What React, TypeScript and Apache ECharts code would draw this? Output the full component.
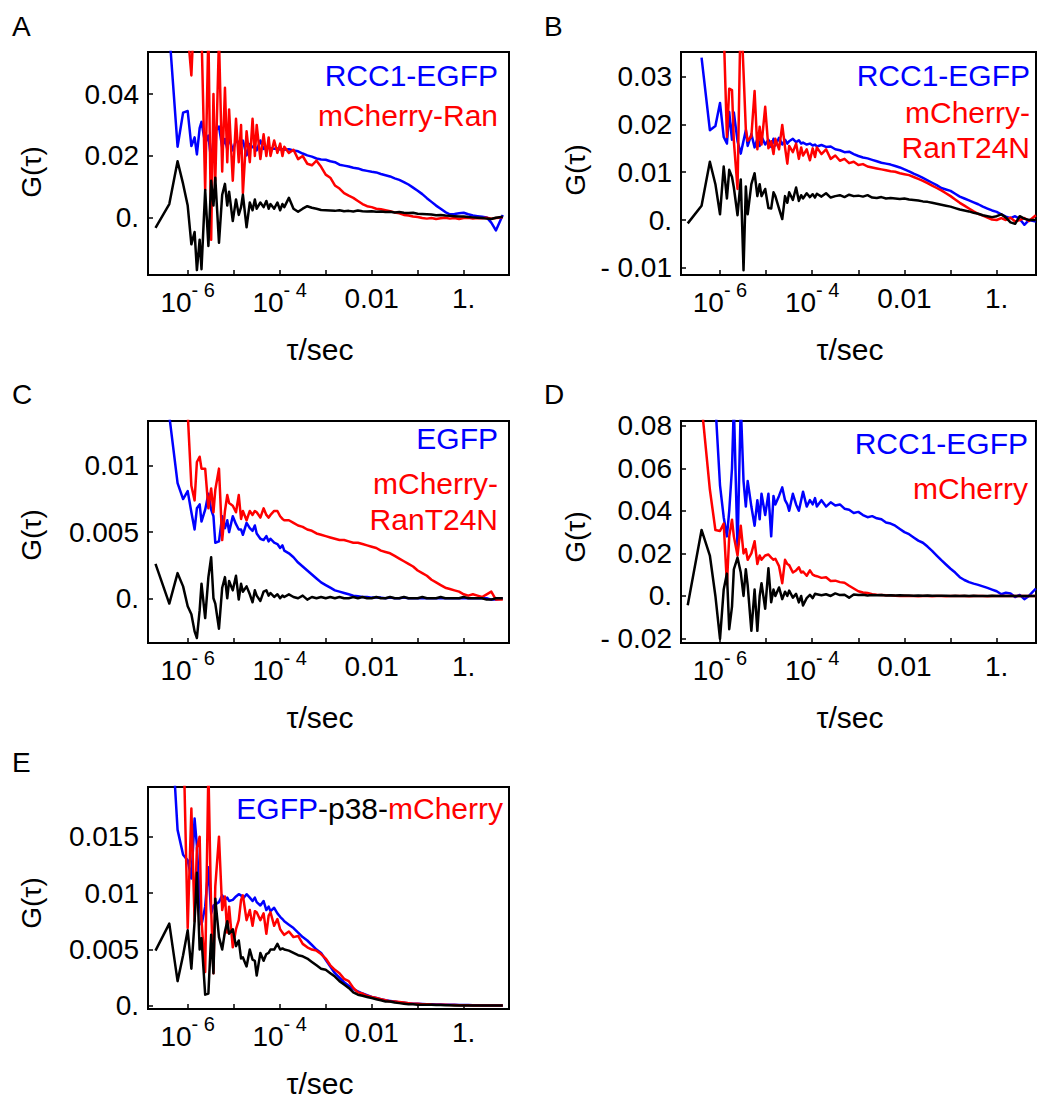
import React, { useEffect, useRef } from "react";
import * as echarts from "echarts";

const BLUE = "#0000ff";
const RED = "#ff0000";
const BLACK = "#000000";
const FONT = "'Liberation Sans', Arial, Helvetica, sans-serif";

// log10 of the lag time tau (s), shared by every curve
const lagLog10 = [
  -6.7, -6.4, -6.22, -6.1, -6.0, -5.92, -5.85, -5.8, -5.74, -5.7,
  -5.62, -5.55, -5.49, -5.44, -5.4, -5.32, -5.25, -5.19, -5.14, -5.1,
  -5.02, -4.95, -4.89, -4.84, -4.8, -4.72, -4.65, -4.59, -4.54, -4.5,
  -4.42, -4.35, -4.29, -4.24, -4.2, -4.12, -4.05, -3.99, -3.94, -3.9,
  -3.8, -3.7, -3.6, -3.5, -3.4, -3.3, -3.2, -3.1, -3.0, -2.9,
  -2.8, -2.7, -2.6, -2.5, -2.4, -2.3, -2.2, -2.1, -2.0, -1.9,
  -1.8, -1.7, -1.6, -1.5, -1.4, -1.3, -1.2, -1.1, -1.0, -0.9,
  -0.8, -0.7, -0.6, -0.5, -0.4, -0.3, -0.2, -0.1, 0.0, 0.1,
  0.2, 0.3, 0.4, 0.5, 0.6, 0.7, 0.85,
];

// x tick marks / labels (log10 tau)
const xTickValues = [-6, -5, -4, -3, -2, -1, 0];
const xLabelValues = [-6, -4, -2, 0];
const xLabelTexts = ["10^- 6", "10^- 4", "0.01", "1."];

// ---------- Panel A ----------
const aYTicks = [0, 0.02, 0.04];
const aBlue = [
  null, 0.06, 0.023, 0.034, 0.0345, 0.0232, 0.026, 0.0205, 0.029, 0.031,
  0.024, 0.0266, 0.0185, 0.025, 0.028, 0.0295, 0.0228, 0.0255, 0.0223, 0.026,
  0.0218, 0.025, 0.0245, 0.0239, 0.025, 0.0202, 0.0239, 0.0228, 0.0232, 0.0218,
  0.025, 0.0223, 0.0228, 0.0226, 0.0225, 0.0223, 0.0224, 0.0221, 0.0222, 0.022,
  0.0222, 0.0218, 0.0215, 0.0208, 0.0202, 0.0198, 0.0192, 0.0189, 0.0188, 0.0183,
  0.018, 0.0172, 0.0169, 0.0166, 0.0162, 0.016, 0.0155, 0.0152, 0.0149, 0.0147,
  0.0142, 0.0138, 0.0134, 0.0128, 0.0123, 0.0116, 0.0108, 0.0098, 0.0088, 0.0077,
  0.0064, 0.0052, 0.004, 0.003, 0.0019, 0.0012, 0.0013, 0.0015, 0.0017, 0.0012,
  0.0008, 0.0006, 0.0004, 0.0002, -0.0015, -0.004, 0.001,
];
const aRed = [
  null, null, null, 0.065, 0.06, 0.046, 0.07, 0.09, 0.065, 0.06,
  0.009, 0.06, -0.007, 0.04, 0.012, 0.058, 0.015, 0.042, 0.018, 0.035,
  0.012, 0.032, 0.018, 0.03, 0.008, 0.028, 0.018, 0.032, 0.02, 0.03,
  0.019, 0.027, 0.02, 0.026, 0.02, 0.025, 0.021, 0.024, 0.02, 0.023,
  0.021, 0.022, 0.019, 0.02, 0.0175, 0.017, 0.0185, 0.0165, 0.014, 0.013,
  0.0105, 0.0095, 0.008, 0.0072, 0.0065, 0.0055, 0.0045, 0.0038, 0.0035, 0.003,
  0.0028, 0.0025, 0.0022, 0.0018, 0.0015, 0.001, 0.0008, 0.0005, 0.0003, 0.0,
  -0.0002, 0.0, -0.0003, -0.0001, 0.0001, -0.0002, 0.0, -0.0003, 0.0, 0.0001,
  -0.0002, 0.0, -0.0001, 0.0001, -0.0002, 0.0, 0.0002,
];
const aBlack = [
  -0.0032, 0.0045, 0.0183, 0.011, 0.004, -0.0085, -0.0045, -0.0168, -0.007, -0.0165,
  0.009, -0.009, 0.012, 0.004, 0.013, -0.008, 0.0075, 0.011, 0.004, 0.0085,
  -0.001, 0.006, 0.001, 0.0035, 0.0075, -0.003, 0.005, 0.0025, 0.006, 0.003,
  0.005, 0.0035, 0.0055, 0.003, 0.0045, 0.003, 0.005, 0.0025, 0.0045, 0.0035,
  0.0065, 0.003, 0.002, 0.003, 0.0038, 0.0033, 0.003, 0.0026, 0.0025, 0.0024,
  0.0023, 0.0025, 0.0022, 0.0023, 0.0021, 0.0024, 0.0022, 0.0021, 0.0022, 0.002,
  0.0021, 0.0019, 0.002, 0.0018, 0.0019, 0.0017, 0.0016, 0.0017, 0.0014, 0.0013,
  0.0012, 0.0011, 0.0009, 0.001, 0.0008, 0.0007, 0.0006, 0.0005, 0.0005, 0.0003,
  0.0002, 0.0001, 0.0, -0.0002, -0.0003, 0.0001, 0.0004,
];

// ---------- Panel B ----------
const bYTicks = [-0.01, 0, 0.01, 0.02, 0.03];
const bBlue = [
  null, 0.034, 0.0188, 0.0197, 0.0245, 0.0174, 0.016, 0.0226, 0.0168, 0.0225,
  0.0165, 0.0139, 0.0166, 0.0188, 0.0155, 0.018, 0.0152, 0.017, 0.0155, 0.0175,
  0.0158, 0.0168, 0.0153, 0.017, 0.0156, 0.0172, 0.0158, 0.0168, 0.016, 0.0165,
  0.017, 0.0163, 0.0167, 0.016, 0.0162, 0.0158, 0.016, 0.0156, 0.0158, 0.0154,
  0.0157, 0.0153, 0.0154, 0.0148, 0.0146, 0.0142, 0.0143, 0.0138, 0.0134, 0.0131,
  0.0129, 0.0126, 0.0123, 0.012, 0.0118, 0.0116, 0.0113, 0.011, 0.0106, 0.0102,
  0.0097, 0.0093, 0.0088, 0.0083, 0.0078, 0.0073, 0.0067, 0.0064, 0.0061, 0.0055,
  0.0049, 0.0045, 0.0041, 0.0037, 0.0033, 0.0028, 0.0024, 0.002, 0.0017, 0.0012,
  0.0007, 0.0004, 0.0008, 0.0002, -0.001, 0.0, -0.0003,
];
const bRed = [
  null, null, null, null, null, 0.04, 0.0174, 0.0275, 0.0272, 0.0165,
  0.0065, 0.045, 0.031, 0.019, 0.0166, 0.0175, 0.027, 0.0148, 0.0195, 0.0158,
  0.0237, 0.015, 0.0165, 0.0138, 0.017, 0.0148, 0.0199, 0.0152, 0.0118, 0.0155,
  0.0142, 0.016, 0.0128, 0.0152, 0.0135, 0.0148, 0.0125, 0.015, 0.0132, 0.0152,
  0.0138, 0.0148, 0.0128, 0.0135, 0.0124, 0.0128, 0.0119, 0.0122, 0.0115, 0.0117,
  0.0112, 0.011, 0.0108, 0.0106, 0.0104, 0.0102, 0.0101, 0.0098, 0.0096, 0.0094,
  0.009, 0.0086, 0.0082, 0.0077, 0.0072, 0.0067, 0.0062, 0.0056, 0.005, 0.0043,
  0.0036, 0.003, 0.0024, 0.0018, 0.0013, 0.0009, 0.0005, 0.0001, 0.0, 0.0004,
  0.0, 0.0005, -0.0003, 0.0, 0.0004, -0.0002, 0.001,
];
const bBlack = [
  -0.0007, 0.003, 0.0122, 0.0075, 0.0012, 0.0112, 0.0045, 0.0105, 0.009, 0.0068,
  0.001, 0.0085, -0.0105, 0.007, 0.0012, 0.0075, 0.0098, 0.005, 0.0075, 0.005,
  0.0065, 0.0025, 0.0024, 0.0058, 0.005, 0.0024, 0.0002, 0.005, 0.0036, 0.0058,
  0.0042, 0.0068, 0.004, 0.0052, 0.0045, 0.0056, 0.0048, 0.0054, 0.0047, 0.0055,
  0.0049, 0.0056, 0.0047, 0.005, 0.0052, 0.0048, 0.0053, 0.005, 0.0051, 0.0049,
  0.0052, 0.0047, 0.0046, 0.0048, 0.0045, 0.0046, 0.0045, 0.0044, 0.0045, 0.0043,
  0.0042, 0.0041, 0.0039, 0.0038, 0.0036, 0.0034, 0.0032, 0.003, 0.0028, 0.0025,
  0.0022, 0.002, 0.0018, 0.0015, 0.0013, 0.001, 0.0008, 0.0006, 0.0008, 0.0012,
  0.0005, -0.0005, -0.0008, 0.0008, 0.0003, 0.0, 0.0,
];

// ---------- Panel C ----------
const cYTicks = [0, 0.005, 0.01];
const cBlue = [
  null, 0.0138, 0.0087, 0.0075, 0.0081, 0.0065, 0.0052, 0.0068, 0.0071, 0.0058,
  0.0067, 0.0079, 0.0067, 0.0062, 0.0042, 0.0043, 0.0062, 0.0053, 0.0059, 0.005,
  0.0062, 0.0056, 0.0052, 0.0052, 0.0048, 0.0057, 0.0053, 0.0051, 0.0055, 0.0049,
  0.0045, 0.0044, 0.0047, 0.0043, 0.0045, 0.0042, 0.0041, 0.0038, 0.004, 0.0036,
  0.0034, 0.0031, 0.0027, 0.0024, 0.0021, 0.0018, 0.0015, 0.0012, 0.001, 0.0008,
  0.0006, 0.0005, 0.0004, 0.0003, 0.0002, 0.00015, 0.0001, 0.0001, 0.00005, 0.00005,
  0.00005, 0.0, 0.00005, 0.0, 0.0, 0.00005, 0.0, 0.0, 0.0, 0.0,
  0.0, 0.0, 0.0, 0.0, 0.0, 0.0, 0.0, 0.0, 0.0, 0.0,
  0.0, 0.0, 0.0, 0.0, -0.0001, -0.0001, 0.0,
];
const cRed = [
  null, null, null, null, 0.014, 0.0085, 0.0074, 0.0103, 0.0107, 0.0098,
  0.0098, 0.0068, 0.0083, 0.0065, 0.0082, 0.0098, 0.0044, 0.0066, 0.0078, 0.0072,
  0.007, 0.0065, 0.0078, 0.006, 0.0066, 0.0059, 0.0066, 0.0063, 0.0066, 0.0065,
  0.0061, 0.0068, 0.0063, 0.0061, 0.0063, 0.0066, 0.0066, 0.0062, 0.006, 0.0059,
  0.0059, 0.0057, 0.0055, 0.0054, 0.0052, 0.0051, 0.0049, 0.0048, 0.0047, 0.0046,
  0.0045, 0.0044, 0.0044, 0.0043, 0.0042, 0.0042, 0.0041, 0.004, 0.0039, 0.0038,
  0.0036, 0.0035, 0.0034, 0.0032, 0.003, 0.0028, 0.0026, 0.0024, 0.0021, 0.0019,
  0.0017, 0.0014, 0.0012, 0.001, 0.0008, 0.0007, 0.0006, 0.0005, 0.0003, 0.0002,
  0.0003, 0.0002, 0.0001, 0.0003, 0.0005, -0.0001, -0.0001,
];
const cBlack = [
  0.0026, -0.0004, 0.0019, 0.0009, -0.0006, -0.0012, -0.0025, -0.003, -0.0009, 0.0011,
  -0.0015, 0.0016, 0.0031, 0.0, -0.0004, -0.0023, 0.0008, 0.0016, 0.0, 0.0013,
  0.0006, 0.0017, -0.0001, 0.0011, 0.0005, 0.0009, 0.0003, -0.0003, 0.0006, 0.0002,
  -0.0002, 0.0005, 0.0006, 0.0002, 0.0004, 0.0001, 0.0003, 0.0, 0.0002, 0.0001,
  0.0003, 0.0001, 0.0, 0.0002, -0.0001, 0.0001, 0.0, 0.0001, 0.0, 0.0001,
  0.0, 0.0001, 0.0, 0.0, 0.0001, 0.0, 0.0001, 0.0, 0.0, 0.0001,
  0.0, 0.0, 0.0001, 0.0, 0.0, 0.0001, 0.0, 0.0, 0.0, 0.0001,
  0.0, 0.0, 0.0, 0.0001, 0.0, 0.0, 0.0, 0.0, 0.0001, 0.0,
  0.0, 0.0, 0.0, -0.0001, -0.0001, 0.0, 0.0,
];

// ---------- Panel D ----------
const dYTicks = [-0.02, 0, 0.02, 0.04, 0.06, 0.08];
const dBlue = [
  null, null, null, 0.09, 0.052, 0.037, 0.028, 0.04, 0.06, 0.09,
  0.022, 0.09, 0.054, 0.042, 0.054, 0.042, 0.033, 0.045, 0.036, 0.048,
  0.038, 0.048, 0.028, 0.047, 0.043, 0.047, 0.051, 0.045, 0.043, 0.04,
  0.048, 0.043, 0.04, 0.045, 0.049, 0.042, 0.045, 0.043, 0.046, 0.042,
  0.045, 0.042, 0.044, 0.0425, 0.043, 0.041, 0.0405, 0.039, 0.0395, 0.038,
  0.037, 0.0375, 0.0365, 0.036, 0.0345, 0.034, 0.033, 0.0315, 0.03, 0.029,
  0.0275, 0.026, 0.025, 0.0232, 0.0212, 0.019, 0.0168, 0.0148, 0.0128, 0.011,
  0.0088, 0.0075, 0.0065, 0.0058, 0.0052, 0.0045, 0.0038, 0.003, 0.0022, 0.0008,
  0.0015, 0.0012, -0.0005, 0.0005, -0.0015, 0.0, 0.0035,
];
const dRed = [
  null, 0.09, 0.05, 0.031, 0.0305, 0.034, 0.0055, 0.028, 0.0358, 0.028,
  0.019, 0.033, 0.02, 0.022, 0.017, 0.02, 0.0257, 0.015, 0.019, 0.017,
  0.019, 0.0195, 0.018, 0.017, 0.0175, 0.014, 0.006, 0.017, 0.015, 0.0145,
  0.011, 0.012, 0.0135, 0.011, 0.0115, 0.0095, 0.012, 0.01, 0.0095, 0.0093,
  0.0085, 0.0088, 0.007, 0.0072, 0.0065, 0.0062, 0.0048, 0.0035, 0.0022, 0.0016,
  0.0014, 0.0008, 0.0006, 0.0005, 0.0003, 0.0003, 0.0001, 0.0, 0.0001, 0.0,
  0.0, -0.0001, 0.0, 0.0, -0.0001, 0.0, 0.0, -0.0001, 0.0, 0.0,
  0.0, 0.0, -0.0001, 0.0, 0.0, 0.0, -0.0001, 0.0, 0.0, 0.0,
  0.0, 0.0, 0.0, 0.0, 0.0, 0.0, 0.0,
];
const dBlack = [
  -0.0044, 0.031, 0.019, 0.0, -0.0202, 0.003, 0.0105, -0.0156, -0.005, 0.0125,
  0.018, 0.011, 0.0, 0.0125, 0.005, -0.0164, 0.003, -0.0164, 0.0, 0.006,
  -0.006, 0.013, -0.003, 0.003, 0.0, 0.004, -0.0015, 0.002, 0.0, 0.0025,
  -0.0008, 0.001, -0.003, 0.0, -0.0045, -0.001, 0.0005, -0.001, 0.001, 0.0008,
  0.0003, 0.0008, 0.0, 0.0012, 0.0004, 0.0006, -0.0008, 0.0007, 0.0004, 0.0006,
  0.0002, 0.0004, 0.0003, 0.0004, 0.0002, 0.0003, 0.0002, 0.0003, 0.0002, 0.0002,
  0.0001, 0.0002, 0.0001, 0.0002, 0.0001, 0.0001, 0.0001, 0.0001, 0.0, 0.0001,
  0.0, 0.0001, 0.0, 0.0001, 0.0, 0.0, 0.0, 0.0001, 0.0, 0.0,
  0.0, 0.0, 0.0, 0.0, 0.0, 0.0, 0.0,
];

// ---------- Panel E ----------
const eYTicks = [0, 0.005, 0.01, 0.015];
const eBlue = [
  null, 0.028, 0.0156, 0.0134, 0.0129, 0.0113, 0.0166, 0.0142, 0.0095, 0.0072,
  0.0088, 0.0123, 0.0082, 0.0089, 0.009, 0.0092, 0.0098, 0.0094, 0.0096, 0.0093,
  0.0094, 0.0097, 0.0099, 0.0098, 0.0095, 0.0099, 0.0096, 0.0093, 0.0096, 0.0092,
  0.0089, 0.0093, 0.0085, 0.0088, 0.0084, 0.0087, 0.0082, 0.0079, 0.0077, 0.0075,
  0.0072, 0.0069, 0.0065, 0.0061, 0.0058, 0.0054, 0.005, 0.0047, 0.0041, 0.0035,
  0.0029, 0.0025, 0.0021, 0.0018, 0.0015, 0.0013, 0.0011, 0.00095, 0.0008, 0.0007,
  0.0006, 0.0005, 0.00045, 0.0004, 0.0003, 0.00028, 0.00025, 0.0002, 0.0002, 0.00018,
  0.00015, 0.00015, 0.00012, 0.00012, 0.0001, 0.0001, 0.0001, 0.00008, 0.00008, 0.00008,
  0.00006, 0.00006, 0.00005, 0.00005, 0.00005, 0.00005, 0.00005,
];
const eRed = [
  null, null, null, 0.025, 0.0069, 0.0175, 0.0075, 0.014, 0.015, 0.0076,
  0.003, 0.021, 0.0085, 0.0029, 0.0106, 0.015, 0.0085, 0.0097, 0.0065, 0.0088,
  0.0052, 0.0068, 0.0076, 0.0094, 0.0098, 0.0076, 0.0085, 0.0071, 0.0084, 0.0083,
  0.0076, 0.0082, 0.0064, 0.008, 0.0083, 0.0071, 0.0077, 0.0068, 0.0065, 0.0063,
  0.0066, 0.0061, 0.0062, 0.0055, 0.0052, 0.005, 0.0049, 0.0046, 0.0042, 0.0036,
  0.0032, 0.0029, 0.0024, 0.0022, 0.0016, 0.0012, 0.0011, 0.0009, 0.0008, 0.0007,
  0.0006, 0.0005, 0.0004, 0.0004, 0.00035, 0.0003, 0.00025, 0.0002, 0.0002, 0.00015,
  0.00015, 0.00012, 0.0001, 0.0001, 0.0001, 0.00008, 0.00008, 0.00006, 0.00006, 0.00006,
  0.00005, 0.00005, 0.00004, 0.00004, 0.00004, 0.00004, 0.00004,
];
const eBlack = [
  0.0049, 0.0073, 0.0022, 0.0045, 0.0067, 0.0033, 0.0075, 0.0118, 0.005, 0.006,
  0.001, 0.0011, 0.0063, 0.0029, 0.0095, 0.0061, 0.005, 0.0066, 0.0075, 0.0064,
  0.0068, 0.0053, 0.0058, 0.0042, 0.0043, 0.0035, 0.005, 0.0041, 0.004, 0.0027,
  0.0047, 0.004, 0.0046, 0.0047, 0.005, 0.005, 0.0055, 0.005, 0.0051, 0.005,
  0.0049, 0.0047, 0.0045, 0.0044, 0.0042, 0.0039, 0.0036, 0.0033, 0.0032, 0.0029,
  0.0026, 0.0022, 0.0019, 0.0016, 0.0012, 0.001, 0.0009, 0.0008, 0.0007, 0.0006,
  0.0005, 0.0004, 0.0004, 0.0003, 0.00025, 0.0002, 0.00015, 0.00015, 0.0001, 0.0001,
  0.0001, 0.0001, 0.00008, 0.00008, 0.00006, 0.00006, 0.00005, 0.00005, 0.00004, 0.00004,
  0.00004, 0.00003, 0.00003, 0.00003, 0.00003, 0.00003, 0.00003,
];

// legend texts per panel
const aLegend = [{ text: "RCC1-EGFP", color: BLUE }, { text: "mCherry-Ran", color: RED }];
const bLegend = [{ text: "RCC1-EGFP", color: BLUE }, { text: "mCherry-", color: RED }, { text: "RanT24N", color: RED }];
const cLegend = [{ text: "EGFP", color: BLUE }, { text: "mCherry-", color: RED }, { text: "RanT24N", color: RED }];
const dLegend = [{ text: "RCC1-EGFP", color: BLUE }, { text: "mCherry", color: RED }];

const panels = [
  { letter: "A", xRange: [-6.863, 0.985], yRange: [-0.01839, 0.05355], yTicks: aYTicks, blue: aBlue, red: aRed, black: aBlack, legend: aLegend },
  { letter: "B", xRange: [-6.846, 0.853], yRange: [-0.01151, 0.03517], yTicks: bYTicks, blue: bBlue, red: bRed, black: bBlack, legend: bLegend },
  { letter: "C", xRange: [-6.863, 0.985], yRange: [-0.00338, 0.0134], yTicks: cYTicks, blue: cBlue, red: cRed, black: cBlack, legend: cLegend },
  { letter: "D", xRange: [-6.846, 0.853], yRange: [-0.0221, 0.0822], yTicks: dYTicks, blue: dBlue, red: dRed, black: dBlack, legend: dLegend },
  { letter: "E", xRange: [-6.863, 0.985], yRange: [-0.00027, 0.0194], yTicks: eYTicks, blue: eBlue, red: eRed, black: eBlack, legend: null },
];

// layout (pixels)
const layouts = [
  { grid: [148, 52, 361, 223], letter: [12, 26], g: [31, 172], t: [320, 349], legX: 498, legY: [75, 115] },
  { grid: [681, 52, 355, 223], letter: [544, 26], g: [575, 170], t: [850, 349], legX: 1030, legY: [75, 112, 147] },
  { grid: [148, 421, 361, 222], letter: [12, 394], g: [31, 535], t: [320, 717], legX: 498, legY: [438, 483, 519] },
  { grid: [681, 421, 355, 222], letter: [544, 394], g: [575, 537], t: [850, 717], legX: 1028, legY: [443, 488] },
  { grid: [148, 787, 361, 222], letter: [12, 762], g: [31, 903], t: [320, 1083], legX: 503, legY: [808] },
];

function fmtY(v: number) {
  const r = Math.round(v * 100000) / 100000;
  if (r === 0) return "0.";
  const s = String(Math.abs(r));
  return r < 0 ? "- " + s : s;
}

function fmtX(v: number) {
  const i = xLabelValues.indexOf(Math.round(v));
  if (i < 0) return "";
  const t = xLabelTexts[i];
  const parts = t.split("^");
  return parts.length === 2 ? `{b|${parts[0]}}{s|${parts[1]}}` : t;
}

function textEl(text: string, x: number, y: number, size: number, color: string, align: string, extra: any = {}) {
  return {
    type: "text",
    x,
    y,
    silent: true,
    ...extra,
    style: {
      text,
      fill: color,
      font: `${size}px ${FONT}`,
      textAlign: align,
      textVerticalAlign: "middle",
      align,
      verticalAlign: "middle",
    },
  };
}

export default function App() {
  const ref = useRef<HTMLDivElement>(null);
  useEffect(() => {
    if (!ref.current) return;
    const chart = echarts.init(ref.current, null, { renderer: "svg" });
    const grids: any[] = [];
    const xAxes: any[] = [];
    const yAxes: any[] = [];
    const series: any[] = [];
    const graphics: any[] = [];

    panels.forEach((p, i) => {
      const L = layouts[i];
      grids.push({
        left: L.grid[0], top: L.grid[1], width: L.grid[2], height: L.grid[3],
        show: true, borderColor: "#000", borderWidth: 2, backgroundColor: "transparent",
        containLabel: false,
      });
      xAxes.push({
        type: "value", gridIndex: i, min: p.xRange[0], max: p.xRange[1], position: "bottom",
        axisLine: { show: false, onZero: false }, splitLine: { show: false },
        axisTick: { show: true, inside: true, length: 5, lineStyle: { color: "#000", width: 1.5 }, customValues: xTickValues },
        axisLabel: {
          customValues: xLabelValues, formatter: fmtX, margin: 9, color: "#000",
          fontSize: 28, lineHeight: 28, fontFamily: FONT,
          rich: {
            b: { fontSize: 28, lineHeight: 28, fontFamily: FONT, color: "#000", padding: [8, 0, 0, 0] },
            s: { fontSize: 20, lineHeight: 20, fontFamily: FONT, color: "#000", padding: [0, 0, 16, 0] },
          },
        },
      });
      yAxes.push({
        type: "value", gridIndex: i, min: p.yRange[0], max: p.yRange[1], position: "left",
        axisLine: { show: false, onZero: false }, splitLine: { show: false },
        axisTick: { show: true, inside: true, length: 5, lineStyle: { color: "#000", width: 1.5 }, customValues: p.yTicks },
        axisLabel: { customValues: p.yTicks, formatter: fmtY, margin: 9, color: "#000", fontSize: 28, fontFamily: FONT },
      });
      const curves = [
        { name: p.letter + "-blue", color: BLUE, data: p.blue },
        { name: p.letter + "-red", color: RED, data: p.red },
        { name: p.letter + "-black", color: BLACK, data: p.black },
      ];
      curves.forEach((c, k) => {
        const pts: any[] = [];
        lagLog10.forEach((x, j) => {
          const y = c.data[j];
          if (y !== null && y !== undefined) pts.push([x, y]);
        });
        series.push({
          type: "line", name: c.name, xAxisIndex: i, yAxisIndex: i, data: pts,
          showSymbol: false, symbol: "none", clip: true, z: 2 + k,
          lineStyle: { color: c.color, width: 2.5, join: "round" }, itemStyle: { color: c.color },
        });
      });

      graphics.push(textEl(p.letter, L.letter[0], L.letter[1], 28, "#000", "left"));
      graphics.push(textEl("G(τ)", L.g[0], L.g[1], 28, "#000", "center", { rotation: Math.PI / 2 }));
      graphics.push(textEl("τ/sec", L.t[0], L.t[1], 30, "#000", "center"));
      if (p.legend) {
        p.legend.forEach((lg, k) => {
          graphics.push(textEl(lg.text, L.legX, L.legY[k], 30, lg.color, "right"));
        });
      } else {
        graphics.push({
          type: "text", x: L.legX, y: L.legY[0], silent: true,
          style: {
            text: "{b|EGFP}{k|-p38-}{r|mCherry}",
            font: `30px ${FONT}`,
            fill: "#000",
            textAlign: "right", textVerticalAlign: "middle", align: "right", verticalAlign: "middle",
            rich: {
              b: { fill: BLUE, font: `30px ${FONT}` },
              k: { fill: BLACK, font: `30px ${FONT}` },
              r: { fill: RED, font: `30px ${FONT}` },
            },
          },
        });
      }
    });

    chart.setOption({
      animation: false,
      backgroundColor: "#ffffff",
      textStyle: { fontFamily: FONT },
      grid: grids,
      xAxis: xAxes,
      yAxis: yAxes,
      series,
      graphic: { elements: graphics },
    });
    return () => chart.dispose();
  }, []);
  return (
    <div
      ref={ref}
      style={{ position: "absolute", left: 0, top: 0, width: 1038, height: 1104, background: "#fff" }}
    />
  );
}
